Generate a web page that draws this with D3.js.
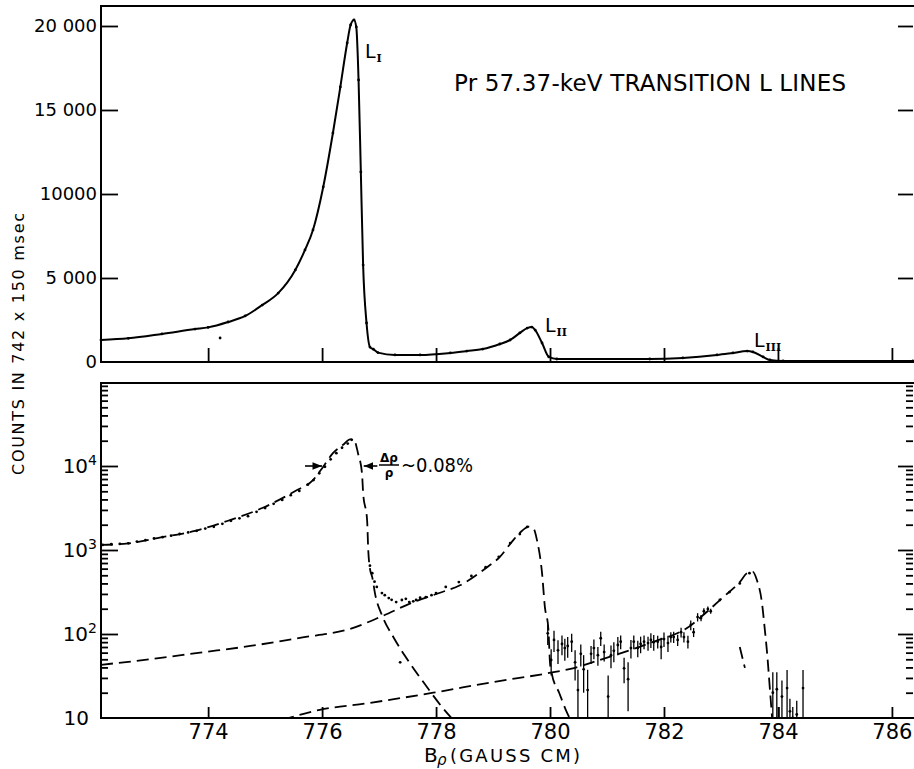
<!DOCTYPE html>
<html>
<head>
<meta charset="utf-8">
<script src="https://cdn.jsdelivr.net/npm/d3@7"></script>
<style>
  body { margin: 0; background: #fff; }
  svg { display: block; font-family: "DejaVu Sans", sans-serif; }
</style>
</head>
<body>
<svg width="914" height="769"></svg>
<script>
// axis ticks
var bRhoTicks = [774, 776, 778, 780, 782, 784, 786];
var linTicks = [0, 5000, 10000, 15000, 20000];
var linTickLabels = ["0", "5 000", "10000", "15 000", "20 000"];
var logTicks = [10, 100, 1000, 10000];
var logTickExps = ["", "2", "3", "4"];

// upper panel: fitted spectrum, linear counts
var linB = [772.12, 772.60, 773.19, 773.77, 774.00, 774.35, 774.65, 774.95, 775.23, 775.53,
            775.70, 775.84, 776.02, 776.19, 776.32, 776.44, 776.50, 776.56, 776.60, 776.64,
            776.68, 776.72, 776.78, 776.84, 776.90, 776.98, 777.28, 777.72, 778.25, 778.54,
            778.82, 779.12, 779.30, 779.47, 779.60, 779.68, 779.74, 779.86, 779.98, 780.12,
            781.75, 782.33, 782.93, 783.21, 783.46, 783.56, 783.74, 783.86, 784.09, 786.37];
var linCounts = [1310, 1410, 1670, 1960, 2060, 2380, 2740, 3390, 4100, 5480,
                 6670, 7860, 10420, 13630, 16370, 18990, 20060, 20360, 19940, 16790,
                 11310, 5770, 2320, 890, 760, 560, 420, 420, 540, 650,
                 770, 1070, 1310, 1730, 2020, 2080, 1900, 1130, 300, 180,
                 180, 240, 420, 540, 650, 600, 300, 120, 60, 60];
var linDotB = [774.21];
var linDotCounts = [1430];

// lower panel: measured points (log counts)
var dotB = [772.15, 772.30, 772.45, 772.60, 772.75, 772.90, 773.05, 773.20, 773.35, 773.50,
            773.65, 773.80, 773.95, 774.10, 774.25, 774.40, 774.55, 774.70, 774.85, 775.00,
            775.15, 775.30, 775.45, 775.60, 775.75, 775.85, 775.95, 776.05, 776.15, 776.25,
            776.35, 776.45, 776.52, 776.84, 776.88, 776.92, 776.96, 777.05, 777.10, 777.17,
            777.22, 777.30, 777.37, 777.40, 777.47, 777.53, 777.60, 777.65, 777.72, 777.82,
            777.92, 778.00, 778.17, 778.40, 778.62, 778.87, 779.10, 779.30, 779.47, 779.60,
            782.98, 783.15, 783.33, 783.50];
var dotCounts = [1150, 1170, 1180, 1200, 1260, 1310, 1370, 1420, 1480, 1550,
                 1620, 1690, 1800, 1890, 2050, 2230, 2380, 2530, 2850, 3160,
                 3550, 3950, 4500, 5050, 6000, 6800, 8200, 9800, 12000, 14200,
                 16500, 18500, 20500, 650, 530, 420, 363, 307, 290, 268,
                 255, 240, 46, 254, 262, 240, 245, 254, 270, 275,
                 290, 307, 363, 415, 490, 625, 830, 1210, 1550, 1880,
                 254, 316, 400, 530];

// lower panel: points with error bars
var barB = [779.96, 780.02, 780.07, 780.14, 780.21, 780.26, 780.31, 780.38, 780.44, 780.49,
            780.54, 780.59, 780.66, 780.72, 780.77, 780.84, 780.89, 780.95, 781.02, 781.07,
            781.12, 781.19, 781.24, 781.30, 781.37, 781.42, 781.47, 781.54, 781.59, 781.65,
            781.72, 781.77, 781.82, 781.89, 781.95, 782.00, 782.07, 782.12, 782.17, 782.24,
            782.30, 782.35, 782.42, 782.47, 782.52, 782.59, 782.65, 782.70, 782.77, 782.82,
            783.91, 783.98, 784.02, 784.07, 784.16, 784.21, 784.26, 784.33, 784.44];
var barCounts = [102, 49, 85, 64, 76, 68, 72, 81, 46, 21.5,
                 58, 38, 21.5, 58, 68, 56, 89, 61, 18, 56,
                 63, 74, 81, 39, 29, 68, 81, 68, 76, 81,
                 78, 85, 80, 81, 70, 87, 78, 92, 92, 85,
                 105, 92, 81, 128, 105, 159, 155, 187, 198, 187,
                 20, 22, 9, 18, 22.7, 12, 10, 11, 22.7];
var barErr = [28, 17, 24, 20, 20, 20, 20, 20, 18, 16,
              17, 18, 16, 14, 18, 14, 17, 14, 14, 17,
              17, 18, 15, 13, 17, 17, 15, 15, 17, 15,
              15, 17, 17, 14, 20, 17, 17, 13, 14, 13,
              14, 13, 14, 17, 13, 18, 13, 15, 14, 13,
              15, 13, 4.5, 10, 14.6, 5, 3.5, 5, 14.6];

// lower panel: fitted line shapes (dashed)
var l1B = [772.12, 772.60, 773.19, 773.77, 774.35, 774.95, 775.53, 775.84, 776.02, 776.19,
           776.37, 776.49, 776.56, 776.63, 776.70, 776.72, 776.79, 776.81, 776.84, 776.88,
           776.93, 777.05, 777.25, 777.54, 777.84, 778.12, 778.30];
var l1Counts = [1150, 1200, 1420, 1690, 2230, 3160, 5050, 6800, 9800, 14200,
                17900, 20800, 20500, 14200, 8250, 4800, 2260, 1000, 600, 475,
                300, 168, 92, 45, 23.4, 13.1, 9.5];
var l2B = [772.12, 772.98, 773.86, 774.74, 775.61, 776.49, 777.07, 777.54, 778.07, 778.42,
           778.89, 779.12, 779.33, 779.47, 779.63, 779.72, 779.77, 779.86, 779.91, 779.97,
           780.00, 780.03, 780.16, 780.30, 780.36];
var l2Counts = [43, 50, 60, 72, 90, 115, 165, 230, 310, 380,
                620, 830, 1250, 1600, 1900, 1750, 1320, 530, 209, 118,
                45, 34, 20, 11.5, 9.5];
var l3B = [775.30, 775.96, 776.80, 777.95, 779.00, 779.95, 780.40, 780.87, 781.75, 782.46,
           782.75, 783.04, 783.33, 783.46, 783.56, 783.63, 783.72, 783.77, 783.81, 783.86,
           783.90];
var l3Counts = [9.5, 12.5, 15, 20, 26.8, 34, 39, 49, 78, 125,
                183, 275, 415, 530, 550, 440, 233, 112, 59, 21.5,
                9.5];
var strayB = [783.33, 783.42];
var strayCounts = [70, 39.5];

var svg = d3.select("svg"),
    left = 101, right = 913,
    top1 = 6, bottom1 = 362,
    top2 = 383, bottom2 = 718;

var x = d3.scaleLinear().domain([772.12, 786.37]).range([left, right]);
var yLin = d3.scaleLinear().domain([0, 21190]).range([bottom1, top1]);
var yLog = d3.scaleLog().domain([10, 100000]).range([bottom2, 382]);

var zip = function(a, b) { return a.map(function(v, i) { return [v, b[i]]; }); };

var defs = svg.append("defs");
defs.append("clipPath").attr("id", "clipTop")
  .append("rect").attr("x", left).attr("y", top1).attr("width", right - left).attr("height", bottom1 - top1);
defs.append("clipPath").attr("id", "clipBot")
  .append("rect").attr("x", left).attr("y", top2).attr("width", right - left).attr("height", bottom2 - top2);
defs.append("marker").attr("id", "arrow").attr("viewBox", "0 0 10 10")
    .attr("refX", 10).attr("refY", 5).attr("markerWidth", 6).attr("markerHeight", 6)
    .attr("orient", "auto")
  .append("path").attr("d", "M0,1L10,5L0,9z").attr("fill", "#000");

function styleAxis(g, size) {
  g.select(".domain").remove();
  g.selectAll(".tick line").attr("stroke", "#000").attr("stroke-width", 1.8);
  g.attr("font-family", "DejaVu Sans, sans-serif").attr("font-size", size);
}

// frame without a right edge (the original is cut off there)
function frame(y0, y1) {
  svg.append("path")
      .attr("d", "M" + (right + 2) + "," + y0 + "H" + left + "V" + y1 + "H" + (right + 2))
      .attr("fill", "none").attr("stroke", "#000").attr("stroke-width", 2);
}

// ---------- upper panel ----------
svg.append("g")
    .attr("transform", "translate(" + left + ",0)")
    .call(d3.axisLeft(yLin).tickValues(linTicks).tickSize(-17).tickPadding(4)
      .tickFormat(function(d, i) { return linTickLabels[i]; }))
    .call(styleAxis, 18)
    .call(function(g) { g.select(".tick:first-of-type line").remove(); });

svg.append("g")
    .attr("transform", "translate(" + right + ",0)")
    .call(d3.axisRight(yLin).tickValues(linTicks.slice(1)).tickSize(-15).tickFormat(""))
    .call(styleAxis, 10);

svg.append("g")
    .attr("transform", "translate(0," + bottom1 + ")")
    .call(d3.axisBottom(x).tickValues(bRhoTicks).tickSize(-14).tickFormat(""))
    .call(styleAxis, 10);

var lineLin = d3.line()
    .x(function(d) { return x(d[0]); })
    .y(function(d) { return yLin(d[1]); })
    .curve(d3.curveMonotoneX);

svg.append("path")
    .datum(zip(linB, linCounts))
    .attr("clip-path", "url(#clipTop)")
    .attr("fill", "none")
    .attr("stroke", "#000")
    .attr("stroke-width", 2)
    .attr("d", lineLin);

svg.append("g").attr("fill", "#000")
  .selectAll("circle")
  .data(zip(linB, linCounts).concat(zip(linDotB, linDotCounts)))
  .enter().append("circle")
    .attr("cx", function(d) { return x(d[0]); })
    .attr("cy", function(d) { return yLin(d[1]); })
    .attr("r", 1.4);

frame(top1, bottom1);

svg.append("text")
    .attr("x", 454).attr("y", 91)
    .attr("font-size", 23)
    .attr("textLength", 392).attr("lengthAdjust", "spacing")
    .text("Pr  57.37-keV  TRANSITION  L  LINES");

function lineLabel(xp, yp, sub) {
  var t = svg.append("text").attr("x", xp).attr("y", yp).attr("font-size", 19);
  t.append("tspan").text("L");
  t.append("tspan")
      .attr("dy", 4).attr("dx", 1)
      .attr("font-family", "DejaVu Serif, serif")
      .attr("font-weight", "bold")
      .attr("font-size", 11)
      .text(sub);
}
lineLabel(365, 58, "I");
lineLabel(545, 332, "II");
lineLabel(754, 347, "III");

// ---------- lower panel ----------
var minorTicks = [];
[10, 100, 1000, 10000].forEach(function(p) {
  for (var k = 2; k <= 9; k++) minorTicks.push(k * p);
});

svg.append("g")
    .attr("transform", "translate(" + left + ",0)")
    .call(d3.axisLeft(yLog).tickValues(logTicks).tickSize(-17).tickPadding(4).tickFormat(""))
    .call(styleAxis, 20)
    .call(function(g) {
      g.select(".tick:first-of-type line").remove();
      g.selectAll(".tick text").each(function(d, i) {
        var t = d3.select(this);
        t.append("tspan").text("10");
        if (logTickExps[i]) {
          t.append("tspan").attr("dy", "-0.55em").attr("font-size", 14).text(logTickExps[i]);
        } else {
          t.attr("dx", -8);
        }
      });
    });

svg.append("g")
    .attr("transform", "translate(" + left + ",0)")
    .call(d3.axisLeft(yLog).tickValues(minorTicks).tickSize(-7).tickFormat(""))
    .call(styleAxis, 10);

svg.append("g")
    .attr("transform", "translate(" + right + ",0)")
    .call(d3.axisRight(yLog).tickValues(logTicks.slice(1)).tickSize(-15).tickFormat(""))
    .call(styleAxis, 10);

svg.append("g")
    .attr("transform", "translate(" + right + ",0)")
    .call(d3.axisRight(yLog).tickValues(minorTicks).tickSize(-7).tickFormat(""))
    .call(styleAxis, 10);

svg.append("g")
    .attr("transform", "translate(0," + bottom2 + ")")
    .call(d3.axisBottom(x).tickValues(bRhoTicks).tickSize(-11).tickPadding(6))
    .call(styleAxis, 21);

var lineLog = d3.line()
    .x(function(d) { return x(d[0]); })
    .y(function(d) { return yLog(d[1]); })
    .curve(d3.curveMonotoneX);

var plot2 = svg.append("g").attr("clip-path", "url(#clipBot)");

[zip(l1B, l1Counts), zip(l2B, l2Counts), zip(l3B, l3Counts), zip(strayB, strayCounts)]
  .forEach(function(series) {
    plot2.append("path")
        .datum(series)
        .attr("fill", "none")
        .attr("stroke", "#000")
        .attr("stroke-width", 1.8)
        .attr("stroke-dasharray", "12,6")
        .attr("d", lineLog);
  });

plot2.append("g").attr("fill", "#000")
  .selectAll("circle")
  .data(zip(dotB, dotCounts))
  .enter().append("circle")
    .attr("cx", function(d) { return x(d[0]); })
    .attr("cy", function(d) { return yLog(d[1]); })
    .attr("r", 1.4);

var bars = plot2.append("g")
  .selectAll("g")
  .data(barB.map(function(b, i) { return {b: b, v: barCounts[i], e: barErr[i]}; }))
  .enter().append("g");

bars.append("line")
    .attr("x1", function(d) { return x(d.b); })
    .attr("x2", function(d) { return x(d.b); })
    .attr("y1", function(d) { return yLog(Math.max(d.v - d.e, 5)); })
    .attr("y2", function(d) { return yLog(d.v + d.e); })
    .attr("stroke", "#000")
    .attr("stroke-width", 1.3);

bars.append("circle")
    .attr("cx", function(d) { return x(d.b); })
    .attr("cy", function(d) { return yLog(d.v); })
    .attr("r", 1.4);

frame(top2, bottom2);

// resolution marker (half maximum of L_I)
var yHalf = yLog(10000);
svg.append("line")
    .attr("x1", x(775.70)).attr("x2", x(776.00))
    .attr("y1", yHalf).attr("y2", yHalf)
    .attr("stroke", "#000").attr("stroke-width", 1.6)
    .attr("marker-end", "url(#arrow)");
svg.append("line")
    .attr("x1", x(776.97)).attr("x2", x(776.73))
    .attr("y1", yHalf).attr("y2", yHalf)
    .attr("stroke", "#000").attr("stroke-width", 1.6)
    .attr("marker-end", "url(#arrow)");

svg.append("text").attr("x", 389).attr("y", 462)
    .attr("text-anchor", "middle").attr("font-size", 12).attr("font-weight", "bold")
    .text("\u0394\u03c1");
svg.append("line").attr("x1", 379).attr("x2", 399).attr("y1", 465).attr("y2", 465)
    .attr("stroke", "#000").attr("stroke-width", 1.5);
svg.append("text").attr("x", 389).attr("y", 477)
    .attr("text-anchor", "middle").attr("font-size", 12).attr("font-weight", "bold")
    .text("\u03c1");
svg.append("text").attr("x", 401).attr("y", 472)
    .attr("font-size", 20)
    .attr("textLength", 72).attr("lengthAdjust", "spacingAndGlyphs")
    .text("~0.08%");

// axis titles
svg.append("text")
    .attr("transform", "translate(24,344) rotate(-90)")
    .attr("text-anchor", "middle")
    .attr("font-size", 16)
    .attr("textLength", 262).attr("lengthAdjust", "spacing")
    .text("COUNTS  IN  742 x 150 msec");

svg.append("text").attr("x", 424).attr("y", 762).attr("font-size", 20).text("B");
svg.append("text").attr("x", 437).attr("y", 765).attr("font-size", 15)
    .attr("font-style", "italic").text("\u03c1");
svg.append("text").attr("x", 450).attr("y", 762).attr("font-size", 18)
    .attr("textLength", 130).attr("lengthAdjust", "spacing")
    .text("(GAUSS   CM)");
</script>
</body>
</html>
